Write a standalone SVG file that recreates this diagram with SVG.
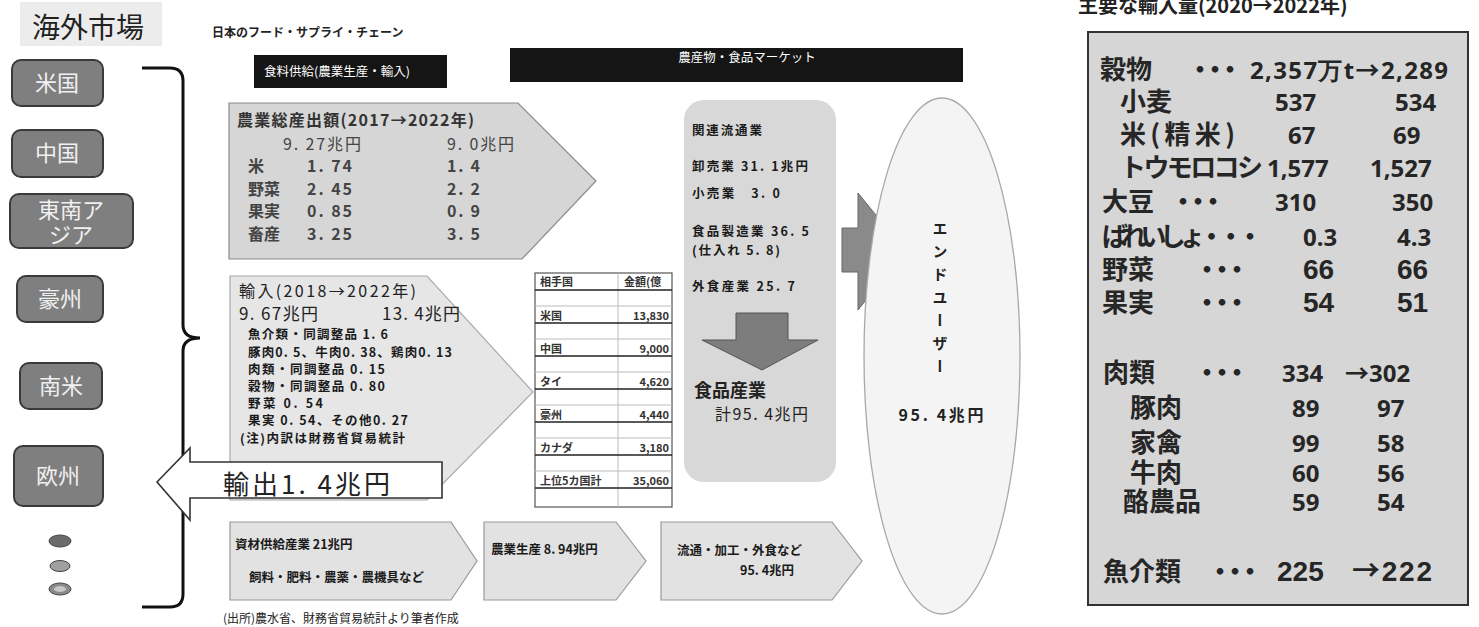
<svg xmlns="http://www.w3.org/2000/svg" width="1479" height="627" viewBox="0 0 1479 627">
<defs>
<style>
text{font-family:"Noto Sans CJK JP","Noto Sans",sans-serif;fill:#222}
.cty rect{fill:#7f7f7f;stroke:#3a3a3a;stroke-width:2}
.cty text{fill:#f0f0f0;font-size:22px;text-anchor:middle}
.bar{fill:#151515}
.bt{fill:#fff;font-size:12.5px}
.pA{fill:#d6d6d6;stroke:#8a8a8a;stroke-width:1.2}
.pB{fill:#e6e6e6;stroke:#aaa;stroke-width:1.2}
.pC{fill:#e2e2e2;stroke:#999;stroke-width:1.2}
.h{font-size:16px;font-weight:bold;fill:#333}
.v{font-size:16px;fill:#444}
.vb{font-size:16px;font-weight:bold;fill:#444}
.s{font-size:12.5px;font-weight:bold;fill:#1a1a1a}
.d{font-size:12.5px;font-weight:bold;fill:#1a1a1a}
.tb{font-size:11px;font-weight:bold;fill:#333}
.tl{stroke:#222;stroke-width:1.6}
.tt{stroke:#bbb;stroke-width:1}
.rp{font-size:26px;font-weight:bold;fill:#262626}
.rn{font-family:"Noto Sans","Open Sans",sans-serif;font-size:24px;font-weight:bold;fill:#262626}
.ra{font-family:"Liberation Sans",Arial,sans-serif;font-size:28px;font-weight:bold;fill:#262626}
.arr{font-family:"Noto Sans CJK JP",sans-serif;font-weight:bold}
.dots{font-size:26px;font-weight:bold;letter-spacing:-11px;fill:#262626}
</style>
</defs>
<rect width="1479" height="627" fill="#fff"/>

<g id="overseas-title">
<rect x="20" y="2" width="142" height="44" fill="#ececec"/>
<text x="32" y="38" font-size="28" fill="#1a1a1a">海外市場</text>
</g>
<g id="usa" class="cty"><rect x="12" y="60" width="91" height="46" rx="9"/><text x="57" y="91">米国</text></g>
<g id="china" class="cty"><rect x="12" y="130" width="91" height="47" rx="9"/><text x="57" y="161">中国</text></g>
<g id="sea" class="cty"><rect x="10" y="194" width="123" height="54" rx="9"/><text x="71" y="218">東南ア</text><text x="71" y="243">ジア</text></g>
<g id="australia" class="cty"><rect x="17" y="276" width="86" height="46" rx="9"/><text x="60" y="307">豪州</text></g>
<g id="samerica" class="cty"><rect x="20" y="363" width="82" height="46" rx="9"/><text x="61" y="394">南米</text></g>
<g id="europe" class="cty"><rect x="14" y="446" width="89" height="60" rx="9"/><text x="58" y="484">欧州</text></g>
<g id="others">
<ellipse cx="60" cy="541" rx="11" ry="6" fill="#6a6a6a" stroke="#444"/>
<ellipse cx="60" cy="566" rx="10" ry="5.5" fill="#a0a0a0" stroke="#444"/>
<ellipse cx="60" cy="589" rx="11" ry="6" fill="#8a8a8a" stroke="#444"/>
<ellipse cx="60" cy="589" rx="6" ry="3" fill="#c8c8c8"/>
</g>

<g id="connectors">
<path d="M142,68 H170 Q183,68 183,81 V325 Q183,338 200,338 Q183,338 183,351 V594 Q183,607 170,607 H142" fill="none" stroke="#111" stroke-width="3"/>
</g>

<g id="title"><text x="212" y="37" font-size="12" font-weight="bold">日本のフード・サプライ・チェーン</text></g>
<g id="bar-supply"><rect class="bar" x="254" y="55" width="193" height="33"/><text class="bt" x="264" y="76">食料供給(農業生産・輸入)</text></g>
<g id="bar-market"><rect class="bar" x="510" y="48" width="453" height="34"/><text class="bt" x="747" y="62" text-anchor="middle">農産物・食品マーケット</text></g>

<g id="agri-output">
<polygon class="pA" points="229,103 518,103 596,181 522,259 229,259"/>
<text class="h" x="237" y="126" textLength="237">農業総産出額(2017→2022年)</text>
<text class="v" x="283" y="150" textLength="78">9. 27兆円</text>
<text class="v" x="447" y="150" textLength="67">9. 0兆円</text>
<text class="vb" x="248" y="172">米</text><text class="vb" x="307" y="172" textLength="45">1. 74</text><text class="vb" x="447" y="172" textLength="33">1. 4</text>
<text class="vb" x="248" y="195">野菜</text><text class="vb" x="307" y="195" textLength="45">2. 45</text><text class="vb" x="447" y="195" textLength="33">2. 2</text>
<text class="vb" x="248" y="217">果実</text><text class="vb" x="307" y="217" textLength="45">0. 85</text><text class="vb" x="447" y="217" textLength="33">0. 9</text>
<text class="vb" x="248" y="240">畜産</text><text class="vb" x="307" y="240" textLength="45">3. 25</text><text class="vb" x="447" y="240" textLength="33">3. 5</text>
</g>

<g id="imports">
<polygon class="pB" points="230,276 427,276 533,392 427,500 230,500"/>
<text x="239" y="297" font-size="16" textLength="177">輸入(2018→2022年)</text>
<text x="239" y="320" font-size="17" fill="#333" textLength="79">9. 67兆円</text>
<text x="382" y="320" font-size="17" fill="#555" textLength="78">13. 4兆円</text>
<text class="s" x="248" y="339" textLength="140">魚介類・同調整品 1. 6</text>
<text class="s" x="248" y="357" textLength="204">豚肉0. 5、牛肉0. 38、鶏肉0. 13</text>
<text class="s" x="248" y="374" textLength="137">肉類・同調整品 0. 15</text>
<text class="s" x="248" y="391" textLength="137">穀物・同調整品 0. 80</text>
<text class="s" x="248" y="408" textLength="75">野菜 0. 54</text>
<text class="s" x="248" y="425" textLength="160">果実 0. 54、その他0. 27</text>
<text class="s" x="240" y="443" textLength="165">(注)内訳は財務省貿易統計</text>
</g>

<g id="exports">
<polygon points="157,482 190,448 190,462 442,462 442,498 190,498 190,520" fill="#fff" stroke="#333" stroke-width="1.6"/>
<text x="223" y="494" font-size="26" fill="#333" textLength="167">輸出1. 4兆円</text>
</g>

<g id="partner-table">
<rect x="535" y="273" width="137" height="234" fill="#fff" stroke="#555" stroke-width="1.2"/>
<line class="tt" x1="618" y1="273" x2="618" y2="507"/>
<line class="tl" x1="535" y1="290" x2="672" y2="290"/>
<line class="tt" x1="535" y1="306" x2="672" y2="306"/>
<line class="tl" x1="535" y1="323" x2="672" y2="323"/>
<line class="tt" x1="535" y1="339" x2="672" y2="339"/>
<line class="tl" x1="535" y1="356" x2="672" y2="356"/>
<line class="tt" x1="535" y1="372" x2="672" y2="372"/>
<line class="tl" x1="535" y1="389" x2="672" y2="389"/>
<line class="tt" x1="535" y1="405" x2="672" y2="405"/>
<line class="tl" x1="535" y1="422" x2="672" y2="422"/>
<line class="tt" x1="535" y1="438" x2="672" y2="438"/>
<line class="tl" x1="535" y1="455" x2="672" y2="455"/>
<line class="tt" x1="535" y1="471" x2="672" y2="471"/>
<line class="tl" x1="535" y1="488" x2="672" y2="488"/>
<text class="tb" x="540" y="286">相手国</text>
<text class="tb" x="624" y="286">金額(億</text>
<text class="tb" x="540" y="320">米国</text><text class="tb" x="669" y="320" text-anchor="end">13,830</text>
<text class="tb" x="540" y="353">中国</text><text class="tb" x="669" y="353" text-anchor="end">9,000</text>
<text class="tb" x="540" y="386">タイ</text><text class="tb" x="669" y="386" text-anchor="end">4,620</text>
<text class="tb" x="540" y="419">豪州</text><text class="tb" x="669" y="419" text-anchor="end">4,440</text>
<text class="tb" x="540" y="452">カナダ</text><text class="tb" x="669" y="452" text-anchor="end">3,180</text>
<text class="tb" x="540" y="485">上位5カ国計</text><text class="tb" x="669" y="485" text-anchor="end">35,060</text>
</g>

<g id="distribution">
<rect x="684" y="100" width="152" height="382" rx="20" fill="#d8d8d8"/>
<text class="d" x="692" y="135" textLength="70">関連流通業</text>
<text class="d" x="692" y="171" textLength="116">卸売業 31. 1兆円</text>
<text class="d" x="692" y="198" textLength="88">小売業　3. 0</text>
<text class="d" x="692" y="236" textLength="117">食品製造業 36. 5</text>
<text class="d" x="692" y="255" textLength="88">(仕入れ 5. 8)</text>
<text class="d" x="692" y="291" textLength="103">外食産業 25. 7</text>
<polygon points="736,313 788,313 788,340 818,340 762,370 702,340 736,340" fill="#7d7d7d" stroke="#555" stroke-width="1"/>
<text x="694" y="397" font-size="18" font-weight="bold" fill="#222">食品産業</text>
<text x="715" y="420" font-size="16" fill="#222" textLength="93">計95. 4兆円</text>
</g>

<g id="flow-arrow">
<polygon points="842,228 858,228 858,193 905,251 858,310 858,272 842,272" fill="#8a8a8a" stroke="#666" stroke-width="1"/>
</g>

<g id="end-users">
<ellipse cx="942" cy="356" rx="78" ry="258" fill="#f4f4f4" stroke="#a8a8a8" stroke-width="1.3"/>
<text x="940" y="221" font-size="15" font-weight="bold" style="writing-mode:vertical-rl;letter-spacing:8px">エンドユーザー</text>
<text x="941" y="421" font-size="16" text-anchor="middle" font-weight="bold" textLength="85">95. 4兆円</text>
</g>

<g id="supply-chain">
<g id="materials"><polygon class="pC" points="230,522 451,522 477,561 451,600 230,600"/>
<text class="s" x="235" y="549">資材供給産業 21兆円</text>
<text class="s" x="249" y="582">飼料・肥料・農薬・農機具など</text></g>
<g id="farming"><polygon class="pC" points="484,522 616,522 646,561 616,600 484,600"/>
<text class="s" x="491" y="554">農業生産 8. 94兆円</text></g>
<g id="processing"><polygon class="pC" points="661,522 832,522 862,561 832,600 661,600"/>
<text class="s" x="677" y="555">流通・加工・外食など</text>
<text class="s" x="740" y="575">95. 4兆円</text></g>
</g>

<g id="source"><text x="223" y="623" font-size="12" fill="#444">(出所)農水省、財務省貿易統計より筆者作成</text></g>

<g id="import-volumes">
<text x="1078" y="13" font-size="20" font-weight="bold" fill="#222">主要な輸入量(2020→2022年)</text>
<rect x="1088" y="32" width="380" height="573" fill="#d6d6d6" stroke="#333" stroke-width="2"/>
<text class="rp" x="1100" y="79">穀物</text><text class="dots" x="1187" y="79">・・・</text><text class="rn" x="1250" y="79" textLength="198">2,357万t<tspan class="arr">→</tspan>2,289</text>
<text class="rp" x="1120" y="111">小麦</text><text class="rn" x="1275" y="111">537</text><text class="rn" x="1395" y="111">534</text>
<text class="rp" x="1120" y="144" textLength="115">米(精米)</text><text class="rn" x="1288" y="144">67</text><text class="rn" x="1393" y="144">69</text>
<text class="rp" x="1120" y="177" textLength="143">トウモロコシ</text><text class="rn" x="1267" y="177">1,577</text><text class="rn" x="1370" y="177">1,527</text>
<text class="rp" x="1102" y="211">大豆</text><text class="dots" x="1170" y="211">・・・</text><text class="rn" x="1275" y="211">310</text><text class="rn" x="1392" y="211">350</text>
<text class="rp" x="1102" y="246" textLength="161">ばれいしょ・・・</text><text class="rn" x="1303" y="246">0.3</text><text class="rn" x="1397" y="246">4.3</text>
<text class="rp" x="1102" y="279">野菜</text><text class="dots" x="1194" y="279">・・・</text><text class="ra" x="1303" y="279">66</text><text class="ra" x="1397" y="279">66</text>
<text class="rp" x="1102" y="312">果実</text><text class="dots" x="1194" y="312">・・・</text><text class="ra" x="1303" y="312">54</text><text class="ra" x="1397" y="312">51</text>
<text class="rp" x="1103" y="382">肉類</text><text class="dots" x="1194" y="382">・・・</text><text class="rn" x="1282" y="382">334</text><text class="rn" x="1345" y="382"><tspan class="arr">→</tspan>302</text>
<text class="rp" x="1130" y="417">豚肉</text><text class="rn" x="1292" y="417">89</text><text class="rn" x="1377" y="417">97</text>
<text class="rp" x="1130" y="452">家禽</text><text class="rn" x="1292" y="452">99</text><text class="rn" x="1377" y="452">58</text>
<text class="rp" x="1130" y="482">牛肉</text><text class="rn" x="1292" y="482">60</text><text class="rn" x="1377" y="482">56</text>
<text class="rp" x="1123" y="511">酪農品</text><text class="rn" x="1292" y="511">59</text><text class="rn" x="1377" y="511">54</text>
<text class="rp" x="1103" y="581">魚介類</text><text class="dots" x="1207" y="581">・・・</text><text class="ra" x="1277" y="581">225</text><text class="ra" x="1352" y="581" textLength="80"><tspan class="arr">→</tspan>222</text>
</g>
</svg>
